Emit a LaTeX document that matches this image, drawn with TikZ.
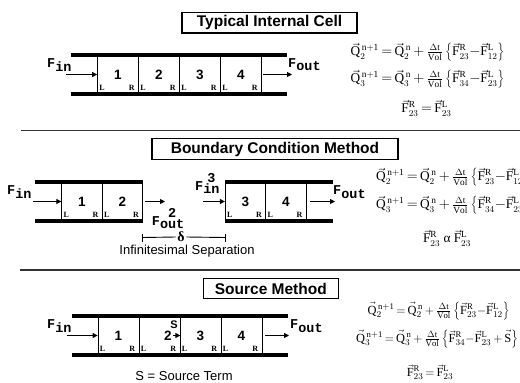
\documentclass[tikz,border=0pt]{standalone}
\usepackage{fontspec}
\setmainfont{Liberation Serif}
\setsansfont{Liberation Sans}
\setmonofont{Liberation Mono}
\usetikzlibrary{arrows.meta}
\newcommand{\vQ}{\vec{\mathrm{Q}}}
\newcommand{\vF}{\vec{\mathrm{F}}}
\newcommand{\eqs}{\,{=}\,}
\newcommand{\pls}{\,{+}\,}
\newcommand{\mns}{{-}}
\newcommand{\fstack}[2]{F\raisebox{-3pt}{\begin{tabular}[b]{@{}c@{}}#1\\[-5pt]#2\end{tabular}}}
\newcommand{\fsub}[1]{F\raisebox{-3.5pt}{#1}}
\newcommand{\dtv}{\frac{\Delta\mathrm{t}}{\mathrm{Vol}}}
\begin{document}
\begin{tikzpicture}[x=1pt,y=-1pt,
  bar/.style={line width=3.5pt},
  cell/.style={draw, line width=0.8pt, minimum width=41pt, minimum height=39pt, inner sep=0pt,
    font=\sffamily\bfseries\fontsize{13.5}{13.5}\selectfont},
  numf/.style={inner sep=0pt, font=\sffamily\bfseries\fontsize{13.5}{13.5}\selectfont},
  flow/.style={-{Triangle[length=5pt,width=5pt]}, line width=1pt},
  flab/.style={inner sep=0pt, font=\ttfamily\bfseries\fontsize{13.5}{16}\selectfont},
  title/.style={draw, line width=1.2pt, minimum height=20.5pt, inner sep=0pt,
    font=\sffamily\bfseries\fontsize{15.5}{15.5}\selectfont},
  lr/.style={inner sep=0pt, font=\rmfamily\bfseries\fontsize{8}{8}\selectfont},
  eq/.style={inner sep=0pt, font=\fontsize{13.3}{15}\selectfont},
  eqb/.style={inner sep=0pt, font=\fontsize{12.4}{14}\selectfont},
  sep/.style={line width=1.5pt, draw=black!80},
  dim/.style={line width=0.9pt},
  note/.style={inner sep=0pt, font=\sffamily\fontsize{13}{13}\selectfont}
]
\clip (0,0) rectangle (520,383);
\fill[white] (0,0) rectangle (520,383);
% separators
\draw[sep] (21,130.5) -- (520,130.5);
\draw[sep] (20,270) -- (520,270);

% ===== Typical Internal Cell =====
\node[title, minimum width=175pt] (t1) at (269.5,22.7) {Typical Internal Cell};
\foreach \i/\x in {1/118,2/159,3/200,4/241} {
  \node[cell] (a\i) at (\x,74.5) {\i};
  \node[lr, anchor=south west] (aL\i) at ([xshift=2pt,yshift=3.5pt]a\i.south west) {L};
  \node[lr, anchor=south east] (aR\i) at ([xshift=-4pt,yshift=3.5pt]a\i.south east) {R};
}
\draw[bar] (71,55) -- (287,55);
\draw[bar] (71,94) -- (287,94);
\coordinate (ai) at (66,74.5);
\draw[flow] (ai) -- (a1.west);
\node[flab, anchor=base west] (fi1) at (47,67.5) {\fsub{in}};
\coordinate (ao) at (292,74.5);
\draw[flow, shorten <=1.5pt] (a4.east) -- (ao);
\node[flab, anchor=base west] (fo1) at (288,67) {\fsub{out}};
\node[eq] (e11) at (427.5,52) {$\vQ_2^{\,\mathrm{n+1}}\eqs\vQ_2^{\,\mathrm{n}}\pls\dtv\left\{\vF_{23}^{\mathrm{R}}\mns\vF_{12}^{\mathrm{L}}\right\}$};
\node[eq] (e12) at (427.5,79) {$\vQ_3^{\,\mathrm{n+1}}\eqs\vQ_3^{\,\mathrm{n}}\pls\dtv\left\{\vF_{34}^{\mathrm{R}}\mns\vF_{23}^{\mathrm{L}}\right\}$};
\node[eq] (e13) at (426.5,108) {$\vF_{23}^{\mathrm{R}}\eqs\vF_{23}^{\mathrm{L}}$};

% ===== Boundary Condition Method =====
\node[title, minimum width=246pt] (t2) at (275,149) {Boundary Condition Method};
\foreach \i/\x in {1/82,2/122.5,3/245.5,4/286} {
  \node[cell, minimum width=40.5pt] (b\i) at (\x,201.5) {\i};
  \node[lr, anchor=south west] (bL\i) at ([xshift=2pt,yshift=3.5pt]b\i.south west) {L};
  \node[lr, anchor=south east] (bR\i) at ([xshift=-4pt,yshift=3.5pt]b\i.south east) {R};
}
\draw[bar] (35,182) -- (142.75,182);
\draw[bar] (35,221) -- (142.75,221);
\draw[bar] (225.25,182) -- (333,182);
\draw[bar] (225.25,221) -- (333,221);
\coordinate (bi) at (33,201.5);
\draw[flow] (bi) -- (b1.west);
\node[flab, anchor=base west] (fi2) at (7,194.5) {\fsub{in}};
\coordinate (b2o) at (165,201.5);
\draw[flow, shorten <=2.25pt] (b2.east) -- (b2o);
\node[flab, anchor=base west] (fo2) at (151.7,225) {\fstack{2}{out}};
\coordinate (b3i) at (203,201.5);
\draw[flow] (b3i) -- (b3.west);
\node[flab, anchor=base west] (fi3) at (195,190.7) {\fstack{3}{in}};
\coordinate (bo) at (335,201.5);
\draw[flow, shorten <=3.75pt] (b4.east) -- (bo);
\node[flab, anchor=base west] (fo3) at (333,194.5) {\fsub{out}};
\coordinate (dl) at (142.75,237.5);
\coordinate (dr) at (225.25,237.5);
\node[inner sep=1.5pt, font=\rmfamily\bfseries\fontsize{14}{14}\selectfont] (dlt) at (181,237) {δ};
\draw[dim] (dl) -- (dlt.west);
\draw[dim] (dlt.east) -- (dr);
\draw[dim] ([yshift=4pt]dl) -- ([yshift=-4pt]dl);
\draw[dim] ([yshift=4pt]dr) -- ([yshift=-4pt]dr);
\node[note] (insep) at (187,251) {Infinitesimal Separation};
\node[eq, anchor=west] (e21) at (376,177) {$\vQ_2^{\,\mathrm{n+1}}\eqs\vQ_2^{\,\mathrm{n}}\pls\dtv\left\{\vF_{23}^{\mathrm{R}}\mns\vF_{12}^{\mathrm{L}}\right\}$};
\node[eq, anchor=west] (e22) at (376,205) {$\vQ_3^{\,\mathrm{n+1}}\eqs\vQ_3^{\,\mathrm{n}}\pls\dtv\left\{\vF_{34}^{\mathrm{R}}\mns\vF_{23}^{\mathrm{L}}\right\}$};
\node[eq] (e23) at (447,238) {$\vF_{23}^{\mathrm{R}}\ \mbox{α}\ \vF_{23}^{\mathrm{L}}$};

% ===== Source Method =====
\node[title, minimum width=135pt] (t3) at (270.8,288.5) {Source Method};
\node[cell] (s1) at (118.5,335.5) {1};
\node[cell] (s2) at (159.5,335.5) {};
\node[cell] (s3) at (200.5,335.5) {3};
\node[cell] (s4) at (241.5,335.5) {4};
\foreach \i in {1,2,3,4} {
  \node[lr, anchor=south west] (sL\i) at ([xshift=2pt,yshift=3.5pt]s\i.south west) {L};
  \node[lr, anchor=south east] (sR\i) at ([xshift=-4pt,yshift=3.5pt]s\i.south east) {R};
}
\draw[bar] (71.7,316) -- (288,316);
\draw[bar] (71.7,355) -- (288,355);
\node[numf] (s2n) at (168,335.5) {2};
\coordinate (ss) at (172.5,335.5);
\draw[flow] (ss) -- (s2.east);
\node[numf, font=\sffamily\bfseries\fontsize{11}{11}\selectfont] (slab) at (174,325) {S};
\coordinate (si) at (66.7,335.5);
\draw[flow] (si) -- (s1.west);
\node[flab, anchor=base west] (fi4) at (47,328.5) {\fsub{in}};
\coordinate (so) at (289,335.5);
\draw[flow, shorten <=3pt] (s4.east) -- (so);
\node[flab, anchor=base west] (fo4) at (290,328.5) {\fsub{out}};
\node[note] (stxt) at (184,376) {S = Source Term};
\node[eqb] (e31) at (438.5,311) {$\vQ_2^{\,\mathrm{n+1}}\eqs\vQ_2^{\,\mathrm{n}}\pls\dtv\left\{\vF_{23}^{\mathrm{R}}\mns\vF_{12}^{\mathrm{L}}\right\}$};
\node[eqb] (e32) at (437,339) {$\vQ_3^{\,\mathrm{n+1}}\eqs\vQ_3^{\,\mathrm{n}}\pls\dtv\left\{\vF_{34}^{\mathrm{R}}\mns\vF_{23}^{\mathrm{L}}\pls\vec{\mathrm{S}}\right\}$};
\node[eqb] (e33) at (430,372) {$\vF_{23}^{\mathrm{R}}\eqs\vF_{23}^{\mathrm{L}}$};
\end{tikzpicture}
\end{document}
